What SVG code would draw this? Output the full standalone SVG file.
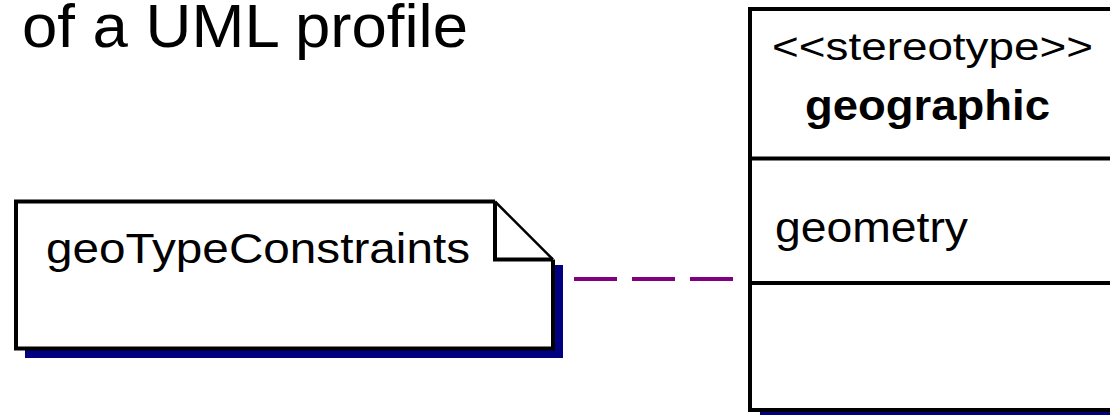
<svg xmlns="http://www.w3.org/2000/svg" width="1110" height="415" viewBox="0 0 1110 415">
  <style>
    .outline { fill: #ffffff; stroke: #000000; stroke-width: 4; }
    .rule { stroke: #000000; stroke-width: 4; fill: none; }
    .fold { stroke: #000000; stroke-width: 2.5; fill: none; }
    .shadow { fill: #000080; }
    .label { font-family: "Liberation Sans", Arial, sans-serif; fill: #000000; }
    .dep { stroke: #800080; stroke-width: 4; stroke-dasharray: 43 15; fill: none; }
  </style>

  <rect width="1110" height="415" fill="#ffffff"/>

  <!-- heading -->
  <text class="label" x="22" y="47" font-size="61" textLength="446" lengthAdjust="spacingAndGlyphs">of a UML profile</text>

  <!-- comment note attached to the stereotype -->
  <g id="note-geoTypeConstraints">
    <rect class="shadow" x="25" y="350" width="538" height="8"/>
    <rect class="shadow" x="555" y="265" width="8" height="93"/>
    <path d="M16,201.5 H495 L553,259.5 V348.5 H16 Z" fill="#ffffff"/>
    <path class="rule" d="M495,201.5 H16 V348.5 H553 V259.5"/>
    <path class="fold" d="M495,201.5 L553,259.5"/>
    <path class="rule" d="M495,201.5 V259.5 H553"/>
    <text class="label" x="46" y="263" font-size="42" textLength="424" lengthAdjust="spacingAndGlyphs">geoTypeConstraints</text>
  </g>

  <!-- stereotype class -->
  <g id="class-geographic">
    <rect class="shadow" x="760" y="412" width="350" height="3"/>
    <rect class="outline" x="750" y="9" width="400" height="401"/>
    <line class="rule" x1="750" y1="158.5" x2="1110" y2="158.5"/>
    <line class="rule" x1="750" y1="283" x2="1110" y2="283"/>
    <text class="label" x="772" y="60" font-size="38" textLength="321" lengthAdjust="spacingAndGlyphs">&lt;&lt;stereotype&gt;&gt;</text>
    <text class="label" x="805" y="120" font-size="42" font-weight="bold" textLength="245" lengthAdjust="spacingAndGlyphs">geographic</text>
    <text class="label" x="775" y="242" font-size="42" textLength="193" lengthAdjust="spacingAndGlyphs">geometry</text>
  </g>

  <!-- connectors -->
  <g id="connectors">
    <line class="dep" x1="574" y1="279" x2="733" y2="279"/>
  </g>
</svg>
